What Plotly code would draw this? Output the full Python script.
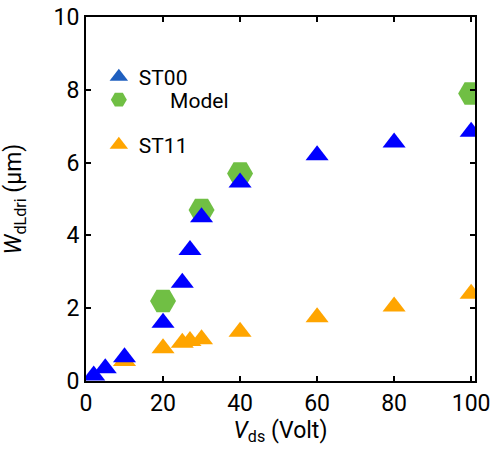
import plotly.graph_objects as go

st00_x = [2, 5, 10, 20, 25, 27, 30, 40, 60, 80, 100]
st00_y = [0.15, 0.35, 0.65, 1.6, 2.7, 3.6, 4.5, 5.45, 6.2, 6.55, 6.85]
st11_x = [10, 20, 25, 27, 30, 40, 60, 80, 100]
st11_y = [0.55, 0.9, 1.05, 1.1, 1.15, 1.35, 1.75, 2.05, 2.4]
model_x = [20, 30, 40, 100]
model_y = [2.2, 4.7, 5.7, 7.9]

x_ticks = [0, 20, 40, 60, 80, 100]
y_ticks = [0, 2, 4, 6, 8, 10]

FONT = "Roboto"
fig = go.Figure()
fig.add_trace(go.Scatter(x=st11_x, y=st11_y, mode="markers", name="ST11",
                         marker=dict(symbol="triangle-up", size=20, color="#FFA500"),
                         legend="legend3"))
fig.add_trace(go.Scatter(x=model_x, y=model_y, mode="markers",
                         name="\u00a0\u00a0\u00a0\u00a0\u00a0\u00a0Model",
                         marker=dict(symbol="hexagon2", size=26, color="#70BF44"),
                         legend="legend2"))
fig.add_trace(go.Scatter(x=st00_x, y=st00_y, mode="markers", name="ST00",
                         marker=dict(symbol="triangle-up", size=20, color="#0000FF"),
                         showlegend=False))
fig.add_trace(go.Scatter(x=[None], y=[None], mode="markers", name="ST00",
                         marker=dict(symbol="triangle-up", size=20, color="#1F5FBF"),
                         legend="legend"))

axis_common = dict(showline=True, linecolor="black", linewidth=2, mirror="ticks",
                   ticks="inside", ticklen=5, tickwidth=2, tickcolor="black",
                   showgrid=False, zeroline=False, automargin=False,
                   ticklabeloverflow="allow",
                   tickfont=dict(family=FONT, size=23, color="black"))

leg_common = dict(xanchor="left", yanchor="middle", bgcolor="rgba(0,0,0,0)",
                  font=dict(family=FONT, size=21, color="black"), itemsizing="trace")

fig.update_layout(
    width=492, height=455,
    margin=dict(l=86, r=16.5, t=17, b=74, pad=0),
    plot_bgcolor="white", paper_bgcolor="white",
    showlegend=True,
    legend=dict(x=0.033, y=0.835, **leg_common),
    legend2=dict(x=0.033, y=0.772, **leg_common),
    legend3=dict(x=0.033, y=0.648, **leg_common),
    xaxis=dict(range=[0, 101], tickvals=x_ticks,
               title=dict(text="<i>V</i><sub>ds</sub> (Volt)", font=dict(family=FONT, size=23, color="black"), standoff=5),
               **axis_common),
    yaxis=dict(range=[0, 10], tickvals=y_ticks,
               title=dict(text="<i>W</i><sub>dLdri</sub> (μm)", font=dict(family=FONT, size=23, color="black"), standoff=25),
               **axis_common),
)
fig.write_html("out.html", config={"displayModeBar": False},
               post_script="document.body.style.margin='0';document.body.style.overflow='hidden';")
